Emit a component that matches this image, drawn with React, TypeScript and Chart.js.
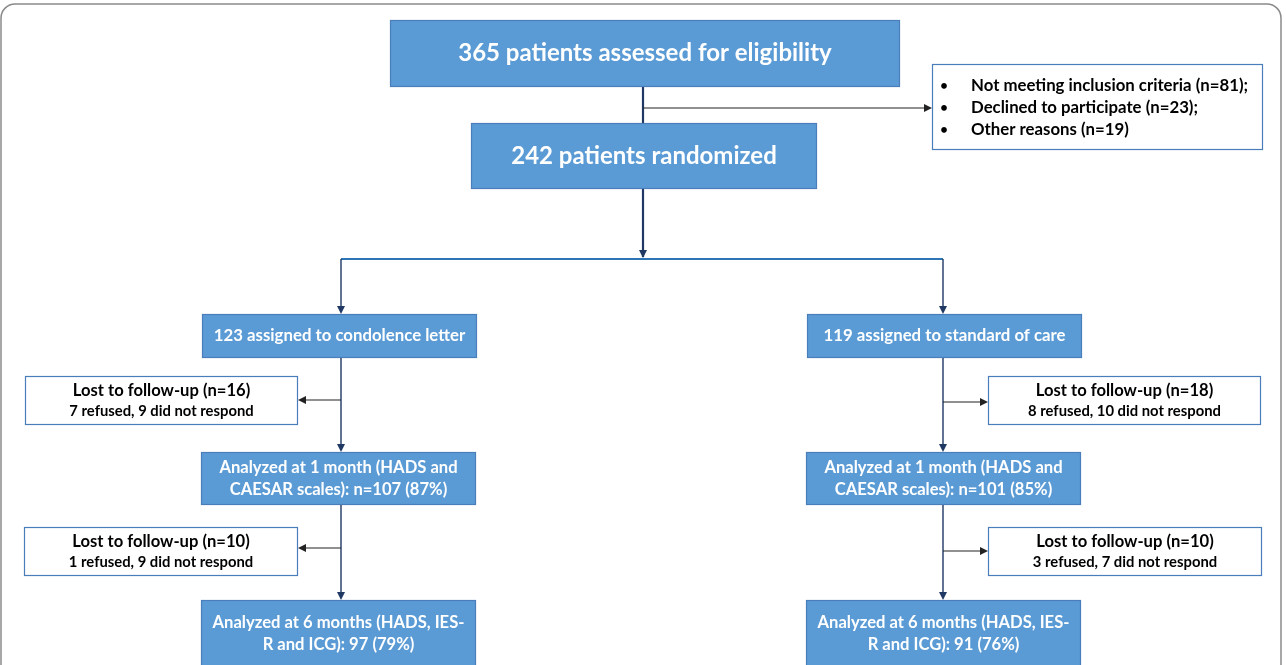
import { useEffect, useRef } from "react";
import { Chart, registerables } from "chart.js";

Chart.register(...registerables);

// ---------- DATA ----------
const assessedCount = 365;
const randomizedCount = 242;
const exclusionReasons = ["Not meeting inclusion criteria", "Declined to participate", "Other reasons"];
const exclusionCounts = [81, 23, 19];
const armNames = ["condolence letter", "standard of care"];
const assignedCounts = [123, 119];
const lost1Counts = [16, 18];
const lost1Refused = [7, 8];
const lost1NoResponse = [9, 10];
const analyzed1Counts = [107, 101];
const analyzed1Pct = [87, 85];
const lost2Counts = [10, 10];
const lost2Refused = [1, 3];
const lost2NoResponse = [9, 7];
const analyzed6Counts = [97, 91];
const analyzed6Pct = [79, 76];

// ---------- LAYOUT (chart-space units) ----------
const W = 1286;
const H = 665;
const armX = [341, 943];
const layout = {
  top: { x0: 390, x1: 900, y0: 20, y1: 87 },
  rand: { x0: 471, x1: 817, y0: 123, y1: 189 },
  excl: { x0: 932, x1: 1263, y0: 64, y1: 150 },
  exclArrowY: 108,
  splitY: 259,
  armBox: { x0: [202, 807], w: 275, y0: 314, y1: 358 },
  lost1: { x0: [25, 988], w: 273, y0: 376, y1: 425, arrowY: [400, 402] },
  an1: { x0: [201, 806], w: 275, y0: 452, y1: 505 },
  lost2: { x0: [24, 988], w: 274, y0: 527, y1: 576, arrowY: [548, 551] },
  an6: { x0: [201, 806], w: 275, y0: 600, y1: 700 },
};

const FONT = "Lato, 'Open Sans', 'DejaVu Sans', sans-serif";
const BLUE = "#5b9bd5";
const BLUE_BORDER = "#4a7ebb";
const NAVY = "#1f3864";
const SPLIT = "#2e75b6";

const flowPlugin = {
  id: "flow",
  afterDraw(chart: any) {
    const ctx = chart.ctx as CanvasRenderingContext2D;
    const xs = chart.scales.x;
    const ys = chart.scales.y;
    const px = (v: number) => xs.getPixelForValue(v);
    const py = (v: number) => ys.getPixelForValue(v);

    ctx.save();
    // outer frame
    ctx.strokeStyle = "#8a8a8a";
    ctx.lineWidth = 1.5;
    ctx.beginPath();
    ctx.roundRect(px(1), py(4), px(1281) - px(1), py(720) - py(4), 14);
    ctx.stroke();

    const box = (x0: number, y0: number, x1: number, y1: number, fill: string, stroke: string) => {
      ctx.fillStyle = fill;
      ctx.fillRect(px(x0), py(y0), px(x1) - px(x0), py(y1) - py(y0));
      ctx.strokeStyle = stroke;
      ctx.lineWidth = 1.2;
      ctx.strokeRect(px(x0) + 0.5, py(y0) + 0.5, px(x1) - px(x0) - 1, py(y1) - py(y0) - 1);
    };
    const text = (s: string, x: number, y: number, size: number, color: string, align: CanvasTextAlign = "center") => {
      ctx.font = `bold ${size}px ${FONT}`;
      ctx.fillStyle = color;
      ctx.textAlign = align;
      ctx.textBaseline = "middle";
      ctx.fillText(s, px(x), py(y));
    };
    const line = (x0: number, y0: number, x1: number, y1: number, color: string, w: number) => {
      ctx.strokeStyle = color;
      ctx.lineWidth = w;
      ctx.beginPath();
      ctx.moveTo(px(x0), py(y0));
      ctx.lineTo(px(x1), py(y1));
      ctx.stroke();
    };
    const head = (x: number, y: number, dir: "down" | "left" | "right", color: string) => {
      const X = px(x), Y = py(y);
      ctx.fillStyle = color;
      ctx.beginPath();
      if (dir === "down") {
        ctx.moveTo(X, Y); ctx.lineTo(X - 4, Y - 8); ctx.lineTo(X + 4, Y - 8);
      } else if (dir === "left") {
        ctx.moveTo(X, Y); ctx.lineTo(X + 8, Y - 4); ctx.lineTo(X + 8, Y + 4);
      } else {
        ctx.moveTo(X, Y); ctx.lineTo(X - 8, Y - 4); ctx.lineTo(X - 8, Y + 4);
      }
      ctx.closePath();
      ctx.fill();
    };

    const cx = (layout.top.x0 + layout.top.x1) / 2;
    const trunkX = 643;

    // trunk lines
    line(trunkX, layout.top.y1, trunkX, layout.rand.y0, NAVY, 2.2);
    line(trunkX, layout.exclArrowY, layout.excl.x0 - 2, layout.exclArrowY, "#222", 1.2);
    head(layout.excl.x0, layout.exclArrowY, "right", "#222");
    line(trunkX, layout.rand.y1, trunkX, layout.splitY - 2, NAVY, 2.2);
    head(trunkX, layout.splitY - 1, "down", NAVY);
    line(armX[0], layout.splitY, armX[1], layout.splitY, SPLIT, 2.2);

    // top boxes
    box(layout.top.x0, layout.top.y0, layout.top.x1, layout.top.y1, BLUE, BLUE_BORDER);
    text(`${assessedCount} patients assessed for eligibility`, cx, (layout.top.y0 + layout.top.y1) / 2, 24, "#fff");
    box(layout.rand.x0, layout.rand.y0, layout.rand.x1, layout.rand.y1, BLUE, BLUE_BORDER);
    text(`${randomizedCount} patients randomized`, (layout.rand.x0 + layout.rand.x1) / 2, (layout.rand.y0 + layout.rand.y1) / 2, 24, "#fff");

    // exclusion box
    box(layout.excl.x0, layout.excl.y0, layout.excl.x1, layout.excl.y1, "#fff", BLUE_BORDER);
    exclusionReasons.forEach((r, i) => {
      const y = 86 + i * 22;
      const last = i === exclusionReasons.length - 1;
      text("•", 944, y, 13, "#000", "center");
      text(`${r} (n=${exclusionCounts[i]})${last ? "" : ";"}`, 971, y, 16.8, "#000", "left");
    });

    armX.forEach((ax, i) => {
      const sideRight = i === 1;
      // arm connector
      line(ax, layout.splitY, ax, layout.armBox.y0 - 2, NAVY, 1.4);
      head(ax, layout.armBox.y0, "down", NAVY);
      const ab = layout.armBox;
      box(ab.x0[i], ab.y0, ab.x0[i] + ab.w, ab.y1, BLUE, BLUE_BORDER);
      text(`${assignedCounts[i]} assigned to ${armNames[i]}`, ab.x0[i] + ab.w / 2, (ab.y0 + ab.y1) / 2, 16.8, "#fff");

      // vertical to analyzed 1
      line(ax, ab.y1, ax, layout.an1.y0 - 2, NAVY, 1.4);
      head(ax, layout.an1.y0, "down", NAVY);

      // lost 1
      const l1 = layout.lost1;
      box(l1.x0[i], l1.y0, l1.x0[i] + l1.w, l1.y1, "#fff", BLUE_BORDER);
      const l1c = l1.x0[i] + l1.w / 2;
      text(`Lost to follow-up (n=${lost1Counts[i]})`, l1c, 391, 16.6, "#000");
      text(`${lost1Refused[i]} refused, ${lost1NoResponse[i]} did not respond`, l1c, 411, 14.8, "#000");
      const edge1 = sideRight ? l1.x0[i] : l1.x0[i] + l1.w;
      line(ax, l1.arrowY[i], sideRight ? edge1 - 2 : edge1 + 2, l1.arrowY[i], "#222", 1.2);
      head(edge1, l1.arrowY[i], sideRight ? "right" : "left", "#222");

      // analyzed 1
      const a1 = layout.an1;
      box(a1.x0[i], a1.y0, a1.x0[i] + a1.w, a1.y1, BLUE, BLUE_BORDER);
      const a1c = a1.x0[i] + a1.w / 2;
      text("Analyzed at 1 month (HADS and", a1c, 468, 16.6, "#fff");
      text(`CAESAR scales): n=${analyzed1Counts[i]} (${analyzed1Pct[i]}%)`, a1c, 490, 16.6, "#fff");

      // vertical to analyzed 6
      line(ax, a1.y1, ax, layout.an6.y0 - 2, NAVY, 1.4);
      head(ax, layout.an6.y0, "down", NAVY);

      // lost 2
      const l2 = layout.lost2;
      box(l2.x0[i], l2.y0, l2.x0[i] + l2.w, l2.y1, "#fff", BLUE_BORDER);
      const l2c = l2.x0[i] + l2.w / 2;
      text(`Lost to follow-up (n=${lost2Counts[i]})`, l2c, 542, 16.6, "#000");
      text(`${lost2Refused[i]} refused, ${lost2NoResponse[i]} did not respond`, l2c, 562, 14.8, "#000");
      const edge2 = sideRight ? l2.x0[i] : l2.x0[i] + l2.w;
      line(ax, l2.arrowY[i], sideRight ? edge2 - 2 : edge2 + 2, l2.arrowY[i], "#222", 1.2);
      head(edge2, l2.arrowY[i], sideRight ? "right" : "left", "#222");

      // analyzed 6
      const a6 = layout.an6;
      box(a6.x0[i], a6.y0, a6.x0[i] + a6.w, a6.y1, BLUE, BLUE_BORDER);
      const a6c = a6.x0[i] + a6.w / 2;
      text("Analyzed at 6 months (HADS, IES-", a6c, 623, 16.6, "#fff");
      text(`R and ICG): ${analyzed6Counts[i]} (${analyzed6Pct[i]}%)`, a6c, 645, 16.6, "#fff");
    });

    ctx.restore();
  },
};

export default function App() {
  const ref = useRef<HTMLCanvasElement | null>(null);
  useEffect(() => {
    document.body.style.margin = "0";
    document.body.style.background = "#fff";
    const canvas = ref.current!;
    const chart = new Chart(canvas, {
      type: "scatter",
      data: { datasets: [{ data: [], pointRadius: 0 }] },
      options: {
        animation: false,
        responsive: false,
        maintainAspectRatio: false,
        layout: { padding: 0 },
        plugins: { legend: { display: false }, tooltip: { enabled: false } },
        scales: {
          x: { type: "linear", min: 0, max: W, display: false },
          y: { type: "linear", min: 0, max: H, reverse: true, display: false },
        },
      },
      plugins: [flowPlugin],
    });
    return () => chart.destroy();
  }, []);
  return (
    <div style={{ position: "fixed", left: 0, top: 0, width: W, height: H, background: "#fff" }}>
      <canvas ref={ref} width={W} height={H} style={{ display: "block" }} />
    </div>
  );
}
